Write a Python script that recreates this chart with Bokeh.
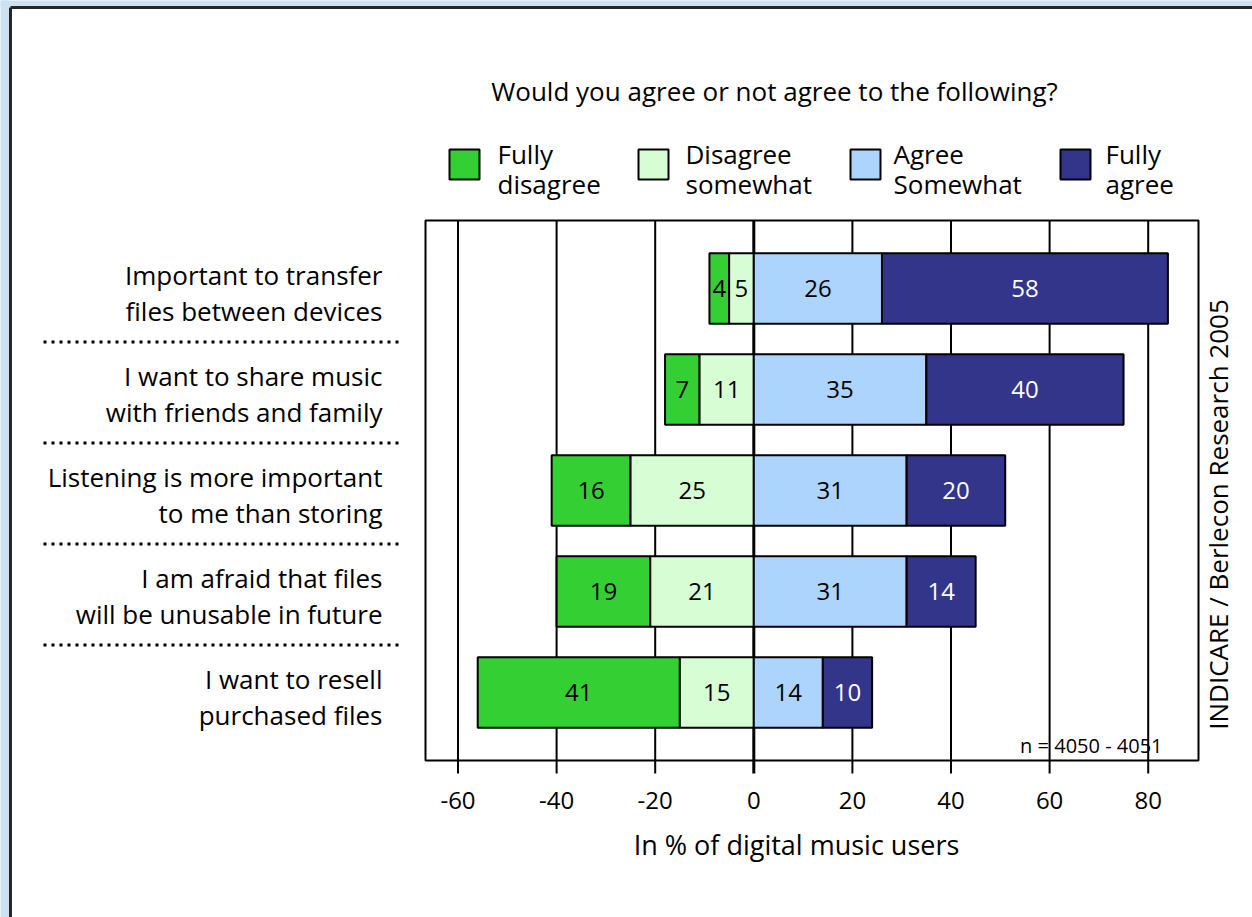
import math
from bokeh.plotting import figure
from bokeh.models import Range1d, ColumnDataSource
from bokeh.embed import file_html
from bokeh.resources import INLINE
from bokeh.core.properties import value

# ---------------- data ----------------
statements = [
    ["Important to transfer", "files between devices"],
    ["I want to share music", "with friends and family"],
    ["Listening is more important", "to me than storing"],
    ["I am afraid that files", "will be unusable in future"],
    ["I want to resell", "purchased files"],
]
fully_disagree = [4, 7, 16, 19, 41]
disagree_somewhat = [5, 11, 25, 21, 15]
agree_somewhat = [26, 35, 31, 31, 14]
fully_agree = [58, 40, 20, 14, 10]
series_names = [["Fully", "disagree"], ["Disagree", "somewhat"], ["Agree", "Somewhat"], ["Fully", "agree"]]
series_colors = ["#33cf33", "#d7fdd5", "#acd4fc", "#33358a"]
value_text_colors = ["black", "black", "black", "white"]
x_ticks = [-60, -40, -20, 0, 20, 40, 60, 80]
x_tick_labels = ["-60", "-40", "-20", "0", "20", "40", "60", "80"]
chart_title = "Would you agree or not agree to the following?"
x_axis_title = "In % of digital music users"
source_note = "INDICARE / Berlecon Research 2005"
sample_note = "n = 4050 - 4051"

# ---------------- layout (pixel geometry of the page) ----------------
W, H = 1252, 917
ZERO_PX, UNIT_PX = 753.3, 4.93        # x: pixel of value 0, pixels per percent
ROW0_PX, ROW_PX = 288.0, 101.0        # y: pixel of first row centre, pixels per row
FONT = "Open Sans"
BG = "#cce2f2"


def gx(px):
    return (px - ZERO_PX) / UNIT_PX


def gy(py):
    return (py - ROW0_PX) / ROW_PX


p = figure(width=W, height=H, x_range=Range1d(gx(0), gx(W)), y_range=Range1d(gy(H), gy(0)),
           output_backend="svg", toolbar_location=None, title=None,
           min_border_left=0, min_border_right=0, min_border_top=0, min_border_bottom=0)
p.xaxis.visible = False
p.yaxis.visible = False
p.xgrid.visible = False
p.ygrid.visible = False
p.outline_line_color = None
p.border_fill_color = "white"
p.background_fill_color = "white"

# page background: light-blue margin and dark panel border
p.quad(left=[gx(-20), gx(-20)], right=[gx(W + 20), gx(9)], top=[gy(-20), gy(-20)],
       bottom=[gy(6), gy(H + 20)], fill_color=BG, line_color=None)
p.segment(x0=[gx(10), gx(10)], y0=[gy(7), gy(7)], x1=[gx(10), gx(W + 20)], y1=[gy(H + 20), gy(7)],
          line_color="#262626", line_width=3)

# plot area
PL, PR, PT, PB = gx(425), gx(1198), gy(220), gy(760)
TICK_END = gy(773)
grid_w = [3 if t == 0 else 2 for t in x_ticks]
p.segment(x0=x_ticks, y0=[PT] * len(x_ticks), x1=x_ticks, y1=[TICK_END] * len(x_ticks),
          line_color="black", line_width=grid_w)

# bars
rows = list(range(len(statements)))
series_values = [fully_disagree, disagree_somewhat, agree_somewhat, fully_agree]
edges = []
for i in rows:
    a = -(fully_disagree[i] + disagree_somewhat[i])
    b = -disagree_somewhat[i]
    d = agree_somewhat[i]
    e = agree_somewhat[i] + fully_agree[i]
    edges.append([a, b, 0, d, e])

for k, vals in enumerate(series_values):
    left = [edges[i][k] for i in rows]
    right = [edges[i][k + 1] for i in rows]
    src = ColumnDataSource(dict(y=rows, left=left, right=right,
                                xc=[(l + r) / 2 for l, r in zip(left, right)],
                                txt=[str(v) for v in vals]))
    p.hbar(y="y", left="left", right="right", height=0.70, source=src,
           fill_color=series_colors[k], line_color="black", line_width=2)
    p.text(x="xc", y="y", text="txt", source=src, text_align="center", text_baseline="middle",
           text_font=value(FONT), text_font_size="24px", text_color=value_text_colors[k])

# plot frame
p.quad(left=[PL], right=[PR], top=[PT], bottom=[PB], fill_color=None, line_color="black", line_width=2)

# x tick labels and axis title
p.text(x=x_ticks, y=[gy(800)] * len(x_ticks), text=x_tick_labels, text_align="center",
       text_baseline="middle", text_font=value(FONT), text_font_size="24px", text_color="black")
p.text(x=[gx(796)], y=[gy(844)], text=[x_axis_title], text_align="center", text_baseline="middle",
       text_font=value(FONT), text_font_size="27px", text_color="black")

# category labels (two lines each) and dotted separators
line1 = [s[0] for s in statements]
line2 = [s[1] for s in statements]
p.text(x=[gx(382)] * len(rows), y=[r - 14 / ROW_PX for r in rows], text=line1, text_align="right",
       text_baseline="middle", text_font=value(FONT), text_font_size="26px", text_color="black")
p.text(x=[gx(382)] * len(rows), y=[r + 22 / ROW_PX for r in rows], text=line2, text_align="right",
       text_baseline="middle", text_font=value(FONT), text_font_size="26px", text_color="black")
sep_y = [r + 0.53 for r in rows[:-1]]
p.segment(x0=[gx(43)] * len(sep_y), y0=sep_y, x1=[gx(398)] * len(sep_y), y1=sep_y,
          line_color="black", line_width=3, line_dash="3 5")

# title
p.text(x=[gx(774)], y=[gy(90)], text=[chart_title], text_align="center", text_baseline="middle",
       text_font=value(FONT), text_font_size="26px", text_color="black")

# legend
sq_x = [449, 638, 850, 1060]
tx_x = [497, 685, 893, 1105]
p.quad(left=[gx(x) for x in sq_x], right=[gx(x + 30) for x in sq_x], top=[gy(149)] * 4,
       bottom=[gy(179)] * 4, fill_color=series_colors, line_color="black", line_width=2)
p.text(x=[gx(x) for x in tx_x], y=[gy(153)] * 4, text=[n[0] for n in series_names],
       text_align="left", text_baseline="middle", text_font=value(FONT), text_font_size="26px",
       text_color="black")
p.text(x=[gx(x) for x in tx_x], y=[gy(183)] * 4, text=[n[1] for n in series_names],
       text_align="left", text_baseline="middle", text_font=value(FONT), text_font_size="26px",
       text_color="black")

# notes
p.text(x=[gx(1217)], y=[gy(514)], text=[source_note], angle=math.pi / 2, text_align="center",
       text_baseline="middle", text_font=value(FONT), text_font_size="26px", text_color="black")
p.text(x=[gx(1162)], y=[gy(745)], text=[sample_note], text_align="right", text_baseline="middle",
       text_font=value(FONT), text_font_size="20px", text_color="black")

open("out.html", "w").write(file_html(p, INLINE))
